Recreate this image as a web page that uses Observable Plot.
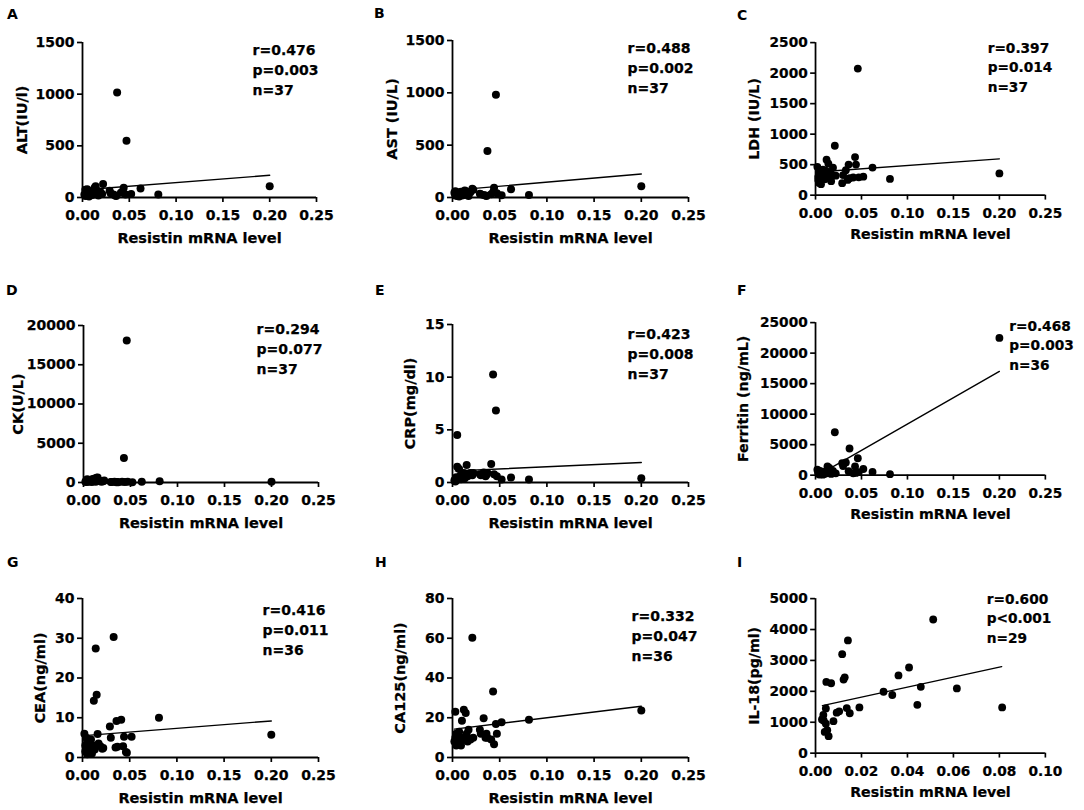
<!DOCTYPE html>
<html><head><meta charset="utf-8">
<script src="https://cdn.jsdelivr.net/npm/d3@7"></script>
<script src="https://cdn.jsdelivr.net/npm/@observablehq/plot@0.6"></script>
<style>
body{margin:0;background:#fff;}
#root{position:relative;width:1084px;height:810px;overflow:hidden;font-family:"DejaVu Sans",sans-serif;background:#fff;}
.panel{position:absolute;}
.panel svg text{stroke:#000;stroke-width:0.25px;}
.letter{position:absolute;font-weight:bold;font-size:14px;line-height:14px;color:#000;}
</style></head><body><div id="root"></div>
<script>
// ---------- data ----------
const panelLetters = ["A","B","C","D","E","F","G","H","I"];
const yLabels = ["ALT(IU/l)","AST (IU/L)","LDH (IU/L)","CK(U/L)","CRP(mg/dl)","Ferritin (ng/mL)","CEA(ng/ml)","CA125(ng/ml)","IL-18(pg/ml)"];
const xLabel = "Resistin mRNA level";
const yMax  = [1500,1500,2500,20000,15,25000,40,80,5000];
const yStep = [500,500,500,5000,5,5000,10,20,1000];
const xMax  = [0.25,0.25,0.25,0.25,0.25,0.25,0.25,0.25,0.10];
const xStep = [0.05,0.05,0.05,0.05,0.05,0.05,0.05,0.05,0.02];
const statR = ["r=0.476","r=0.488","r=0.397","r=0.294","r=0.423","r=0.468","r=0.416","r=0.332","r=0.600"];
const statP = ["p=0.003","p=0.002","p=0.014","p=0.077","p=0.008","p=0.003","p=0.011","p=0.047","p<0.001"];
const statN = ["n=37","n=37","n=37","n=37","n=37","n=36","n=36","n=36","n=29"];

const x37 = [0.002,0.003,0.003,0.004,0.004,0.005,0.005,0.006,0.007,0.008,0.009,0.010,0.011,0.012,0.013,0.014,0.015,0.016,0.017,0.019,0.021,0.022,0.029,0.030,0.033,0.035,0.036,0.037,0.041,0.043,0.044,0.046,0.047,0.052,0.062,0.081,0.200];
const xF = [0.002,0.003,0.003,0.004,0.004,0.005,0.005,0.006,0.007,0.008,0.009,0.010,0.011,0.012,0.013,0.014,0.015,0.016,0.017,0.019,0.021,0.022,0.029,0.030,0.033,0.036,0.037,0.041,0.043,0.044,0.046,0.047,0.052,0.062,0.081,0.200];
const xGH = [0.002,0.003,0.003,0.004,0.004,0.005,0.005,0.006,0.007,0.008,0.009,0.010,0.011,0.012,0.013,0.014,0.015,0.016,0.017,0.019,0.021,0.022,0.029,0.030,0.033,0.035,0.036,0.037,0.041,0.043,0.044,0.046,0.047,0.052,0.081,0.200];
const xI = [0.0028,0.0034,0.0036,0.0040,0.0045,0.0045,0.0047,0.0051,0.0057,0.0068,0.0078,0.0092,0.0103,0.0116,0.0122,0.0127,0.0136,0.0141,0.0149,0.0191,0.0296,0.0334,0.0361,0.0407,0.0443,0.0458,0.0512,0.0615,0.0812];

const yA = [30,75,15,55,40,80,20,35,10,45,60,25,50,30,95,110,70,40,20,55,35,130,65,40,30,20,15,1015,45,60,95,30,549,35,87,29,109];
const yB = [45,60,20,35,25,50,15,30,10,40,55,20,35,25,67,60,40,30,15,50,83,75,35,30,25,20,15,445,30,50,92,982,40,22,79,25,108];
const yC = [464,250,300,200,380,220,350,180,280,420,330,260,400,581,350,517,300,380,230,450,810,320,197,330,410,250,501,277,290,624,501,2074,293,304,453,267,357];
const yD = [100,250,50,400,150,300,80,200,120,350,60,450,180,500,90,600,640,300,200,100,150,250,60,50,80,40,70,30,100,3106,60,18085,80,40,85,170,85];
const yE = [0.2,0.3,0.1,0.5,0.2,1.49,4.51,0.4,1.27,0.6,0.3,0.8,0.5,0.9,0.4,0.7,1.65,0.6,0.8,0.9,0.7,0.9,0.79,0.7,0.95,0.6,0.73,0.9,1.75,10.26,0.79,6.83,0.6,0.29,0.48,0.29,0.41];
const yF = [906,300,600,100,400,200,700,150,350,80,500,250,600,300,1439,906,1200,400,200,700,7036,300,1972,1500,2079,640,4371,300,1439,373,2772,500,1013,533,160,22495];
const yG = [6.0,3.0,1.5,5.0,2.0,4.0,0.8,3.5,1.2,2.5,4.5,1.0,3.0,14.3,2.0,27.4,15.8,5.9,3.5,2.8,2.2,2.4,7.8,5.0,30.3,2.5,9.2,2.7,9.5,2.8,5.2,1.4,1.2,5.2,10.0,5.7];
const yH = [8,23,10,6,12,9,7,11,13,8,6,18.5,10,24,9,22.4,12,8,14,9,60.3,10,14,12,19.7,10,12,10,9,33.2,6.7,16.8,12,17.7,19,23.6];
const yI = [1089,1237,1050,687,1448,951,2304,740,550,2262,1036,1311,1353,3203,2380,2452,1459,3647,1290,1480,1987,1882,2516,2770,1564,2146,4323,2093,1480];

const panelX = [x37,x37,x37,x37,x37,xF,xGH,xGH,xI];
const panelY = [yA,yB,yC,yD,yE,yF,yG,yH,yI];

// regression line end points: [x0, y0, x1, y1] (none for D)
const fitLines = [
  [0.002,75,0.2,215],
  [0.002,70,0.2,225],
  [0.002,380,0.2,595],
  null,
  [0.003,1.1,0.2,1.9],
  [0.003,20,0.2,17000],
  [0.002,5.5,0.2,9.2],
  [0.002,14.3,0.2,25.8],
  [0.003,1540,0.081,2800]
];

// ---------- layout (pixels) ----------
const frames = [
  {x:82,y:42,w:234,h:155},{x:452,y:40,w:236,h:157},{x:817,y:43,w:235,h:156},
  {x:83,y:325,w:235,h:157},{x:452,y:324,w:236,h:158},{x:817,y:323,w:235,h:156},
  {x:82,y:598,w:236,h:159},{x:452,y:598,w:236,h:159},{x:817,y:599,w:235,h:158}
];
const letterPos = [[7,9],[374,8],[737,10],[6,285],[375,285],[737,285],[7,557],[375,557],[737,557]];
const yLabelOffset = [60,60,62,65,42,74,42,52,62];
const statOffset = [[170,-2],[175,-2],[176,-4],[173,-6],[175,0],[198,-6],[180,2],[179,8],[175,-9]];
const ML = 90, MR = 40, MT = 40, MB = 75;

const root = document.getElementById("root");

panelLetters.forEach((L, i) => {
  const f = frames[i];
  const pts = panelX[i].map((x, j) => ({x, y: panelY[i][j]}));
  const fl = fitLines[i];
  const fit = fl ? [{x: fl[0], y: fl[1]}, {x: fl[2], y: fl[3]}] : [];
  const xt = d3.range(0, Math.round(xMax[i] / xStep[i]) + 1).map(k => +(k * xStep[i]).toFixed(4));
  const yt = d3.range(0, Math.round(yMax[i] / yStep[i]) + 1).map(k => k * yStep[i]);
  const plot = Plot.plot({
    width: f.w + ML + MR,
    height: f.h + MT + MB,
    marginLeft: ML, marginRight: MR, marginTop: MT, marginBottom: MB,
    style: {fontFamily: "DejaVu Sans, sans-serif", fontSize: "14px", fontWeight: "bold", color: "#000", background: "transparent", overflow: "visible"},
    x: {domain: [0, xMax[i]]},
    y: {domain: [0, yMax[i]]},
    marks: [
      Plot.axisX({ticks: xt, tickFormat: d3.format(".2f"), tickSize: 5, tickPadding: 8, strokeWidth: 1.7, label: null}),
      Plot.axisY({ticks: yt, tickFormat: d3.format("d"), tickSize: 5, tickPadding: 3, strokeWidth: 1.7, label: null}),
      Plot.ruleX([0], {stroke: "#000", strokeWidth: 1.8}),
      Plot.ruleY([0], {stroke: "#000", strokeWidth: 1.8}),
      Plot.line(fit, {x: "x", y: "y", stroke: "#000", strokeWidth: 1.4}),
      Plot.dot(pts, {x: "x", y: "y", r: 4, fill: "#000"}),
      Plot.text([yLabels[i]], {text: d => d, frameAnchor: "left", rotate: -90, dx: -yLabelOffset[i], textAnchor: "middle", lineAnchor: "middle", fontSize: 14.5, fontWeight: "bold", fill: "#000"}),
      Plot.text([xLabel], {text: d => d, frameAnchor: "bottom", dy: 35, textAnchor: "middle", lineAnchor: "top", fontSize: 14.5, fontWeight: "bold", fill: "#000"}),
      Plot.text([statR[i] + "\n" + statP[i] + "\n" + statN[i]], {text: d => d, frameAnchor: "top-left", dx: statOffset[i][0], dy: statOffset[i][1], textAnchor: "start", lineAnchor: "top", lineHeight: 1.43, fontSize: 14, fontWeight: "bold", fill: "#000"})
    ]
  });
  const wrap = document.createElement("div");
  wrap.className = "panel";
  wrap.style.left = (f.x - ML) + "px";
  wrap.style.top = (f.y - MT) + "px";
  wrap.appendChild(plot);
  root.appendChild(wrap);

  const lt = document.createElement("div");
  lt.className = "letter";
  lt.textContent = L;
  lt.style.left = letterPos[i][0] + "px";
  lt.style.top = (letterPos[i][1] - 2) + "px";
  root.appendChild(lt);
});
</script>
</body></html>
